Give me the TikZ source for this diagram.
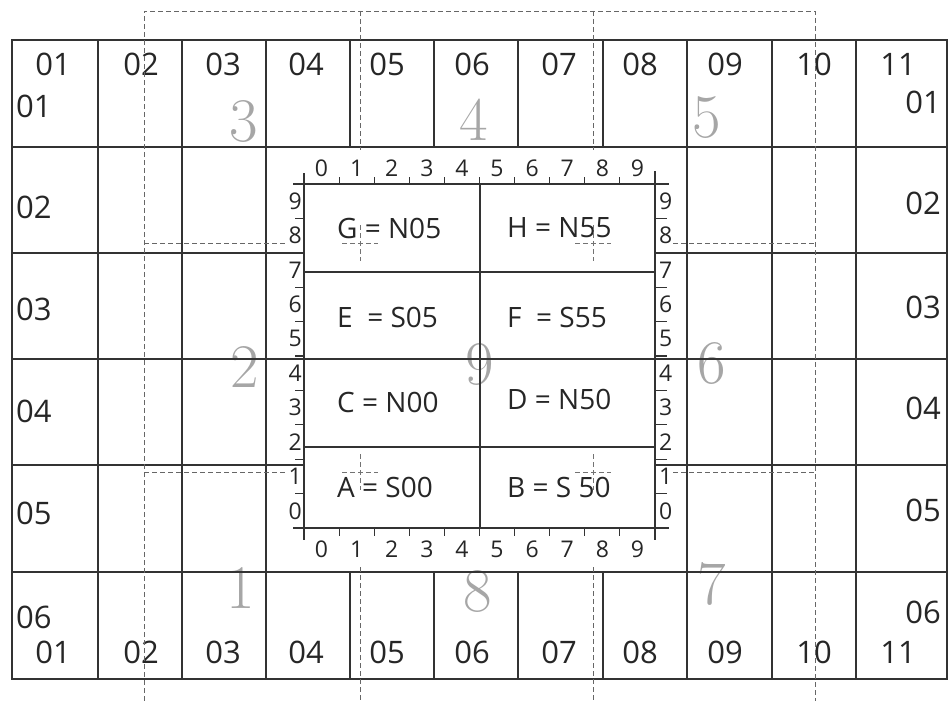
\documentclass[tikz,border=0pt]{standalone}
\usepackage{fontspec}
\newfontfamily\labfont{Open Sans}
\tikzset{
 gridline/.style={draw=black!80, line width=1.3pt},
 rulerline/.style={draw=black!80, line width=1.1pt},
 sheetline/.style={draw=black!60, line width=0.8pt, dash pattern=on 5pt off 3pt},
 crossline/.style={draw=black!55, line width=0.8pt, dash pattern=on 5pt off 3pt},
 gridlab/.style={font=\labfont\fontsize{31}{31}\selectfont, text=black!85, inner sep=0pt},
 rulerlab/.style={font=\labfont\fontsize{23}{23}\selectfont, text=black!85, inner sep=0pt},
 celllab/.style={font=\labfont\fontsize{28}{28}\selectfont, text=black!85, inner sep=0pt, anchor=west},
 sheetnum/.style={font=\fontsize{62}{62}\selectfont, text=black!35, inner sep=0pt},
}
\begin{document}
\begin{tikzpicture}[x=1pt,y=-1pt]
\useasboundingbox (0,0) rectangle (950,701);
% big sheet numbers
\foreach \n/\xx/\yy in {3/244/122,4/474/120,5/707/118,2/245/367,9/480/365,6/712/364,1/241/588,8/478/591,7/712/584}
  \node[sheetnum] (sheet\n) at (\xx,\yy) {\n};
% grid
\draw[gridline] (12,40) rectangle (947,679);
\foreach \yy in {147,359,572} \draw[gridline] (12,\yy) -- (947,\yy);
\foreach \yy in {253,465} {\draw[gridline] (12,\yy) -- (304,\yy); \draw[gridline] (655,\yy) -- (947,\yy);}
\foreach \xx in {98,182,266,687,772,856} \draw[gridline] (\xx,40) -- (\xx,679);
\foreach \xx in {350,434,518,603} {\draw[gridline] (\xx,40) -- (\xx,147); \draw[gridline] (\xx,572) -- (\xx,679);}
% central box
\draw[gridline] (304,184) rectangle (655,528);
\draw[gridline] (480,184) -- (480,528);
\draw[gridline] (304,272) -- (655,272);
\draw[gridline] (304,447) -- (655,447);
% rulers
\draw[rulerline] (293,184) -- (669,184);
\draw[rulerline] (293,528) -- (669,528);
\draw[rulerline] (304,173) -- (304,540);
\draw[rulerline] (655,171) -- (655,540);
\foreach \k in {1,...,9} {
 \draw[rulerline] ({304+35.1*\k},184) -- ++(0,-7);
 \draw[rulerline] ({304+35.1*\k},528) -- ++(0,8);
 \draw[rulerline] (304,{184+34.4*\k}) -- ++(-9,0);
 \draw[rulerline] (655,{184+34.4*\k}) -- ++(12,0);
}
\foreach \k in {0,...,9} {
 \node[rulerlab] (rt\k) at ({304+35.1*(\k+0.5)},168) {\k};
 \node[rulerlab] (rb\k) at ({304+35.1*(\k+0.5)},549) {\k};
 \pgfmathtruncatemacro\v{9-\k}
 \node[rulerlab, anchor=east] (rl\v) at (302,{184+34.4*(\k+0.5)}) {\v};
 \node[rulerlab, anchor=west] (rr\v) at (659,{184+34.4*(\k+0.5)}) {\v};
}
% cell labels
\node[celllab] (G) at (337,228) {G = N05};
\node[celllab] (H) at (507,228) {H = N55};
\node[celllab] (E) at (337,317) {E\ \ = S05};
\node[celllab] (F) at (507,317) {F\ \ = S55};
\node[celllab] (C) at (337,402) {C = N00};
\node[celllab] (D) at (507,399) {D = N50};
\node[celllab] (A) at (337,487) {A = S00};
\node[celllab] (B) at (507,487) {B = S 50};
% grid labels
\foreach \xx/\t in {53/01,141/02,223/03,306/04,387/05,472/06,559/07,640/08,725/09,814/10,898/11} {
 \node[gridlab] (top\t) at (\xx,64) {\t};
 \node[gridlab] (bot\t) at (\xx,652) {\t};
}
\foreach \t/\ly/\ry in {01/106/102,02/207/203,03/309/307,04/411/408,05/513/510,06/617/612} {
 \node[gridlab, anchor=west] (left\t) at (16,\ly) {\t};
 \node[gridlab, anchor=east] (right\t) at (941,\ry) {\t};
}
% sheet outlines (dashed)
\draw[sheetline] (144,701) -- (144,11) -- (815,11) -- (815,701);
\draw[sheetline] (360,11) -- (360,150);
\draw[sheetline] (593,11) -- (593,150);
\draw[sheetline] (360,567) -- (360,701);
\draw[sheetline] (593,567) -- (593,701);
\draw[sheetline] (144,243) -- (286,243);
\draw[sheetline] (673,243) -- (815,243);
\draw[sheetline] (144,472) -- (286,472);
\draw[sheetline] (673,472) -- (815,472);
\foreach \cx/\cy in {360/243,593/243,360/472,593/472} {
 \draw[crossline] ({\cx-18},\cy) -- ({\cx+18},\cy);
 \draw[crossline] (\cx,{\cy-18}) -- (\cx,{\cy+18});
}
\end{tikzpicture}
\end{document}
